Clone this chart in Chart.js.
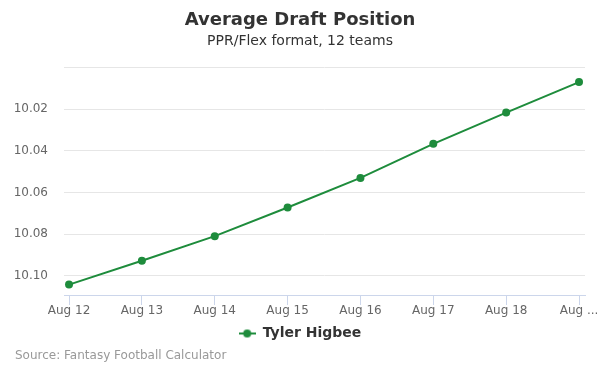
<!DOCTYPE html>
<html>
<head>
<meta charset="utf-8">
<script src="https://cdn.jsdelivr.net/npm/chart.js@4/dist/chart.umd.min.js"></script>
<style>
  html, body { margin: 0; padding: 0; background: #fff; }
  #wrap { position: relative; width: 600px; height: 375px; }
  #c { position: absolute; left: 0; top: 0; }
  #source { position: absolute; left: 15px; top: 348px; font: 12px "DejaVu Sans", sans-serif; color: #999; white-space: nowrap; }
</style>
</head>
<body>
<div id="wrap">
  <canvas id="c" width="600" height="375"></canvas>
  <div id="source">Source: Fantasy Football Calculator</div>
</div>
<script>
const categories = ["Aug 12", "Aug 13", "Aug 14", "Aug 15", "Aug 16", "Aug 17", "Aug 18", "Aug 19"];
const tickLabels = ["Aug 12", "Aug 13", "Aug 14", "Aug 15", "Aug 16", "Aug 17", "Aug 18", "Aug ..."];
const adpValues = [10.1043, 10.0928, 10.081, 10.0672, 10.053, 10.0366, 10.0216, 10.0069];
const yTicks = [10.00, 10.02, 10.04, 10.06, 10.08, 10.10];
const seriesName = "Tyler Higbee";
const lineColor = "#1e8c3c";

const FONT = "'DejaVu Sans', sans-serif";

// legend symbol: line with circle
const sym = document.createElement('canvas');
sym.width = 17; sym.height = 10;
(function(){
  const g = sym.getContext('2d');
  g.strokeStyle = lineColor; g.lineWidth = 2;
  g.beginPath(); g.moveTo(0, 5); g.lineTo(17, 5); g.stroke();
  g.fillStyle = lineColor;
  g.beginPath(); g.arc(8.5, 5, 4, 0, Math.PI * 2); g.fill();
})();

new Chart(document.getElementById('c'), {
  type: 'line',
  data: {
    datasets: [{
      label: seriesName,
      data: adpValues.map((v, i) => ({ x: i, y: v })),
      borderColor: lineColor,
      backgroundColor: lineColor,
      borderWidth: 2,
      pointRadius: 4,
      pointHoverRadius: 5,
      pointBackgroundColor: lineColor,
      pointBorderWidth: 0,
      tension: 0,
      fill: false
    }]
  },
  options: {
    responsive: false,
    animation: false,
    devicePixelRatio: 1,
    layout: { padding: { left: 0, right: 0, top: 0, bottom: 24.5 } },
    plugins: {
      title: {
        display: true,
        text: "Average Draft Position",
        color: "#333333",
        font: { family: FONT, size: 18, weight: 'bold', lineHeight: 1.2 },
        padding: { top: 9.5, bottom: 0 }
      },
      subtitle: {
        display: true,
        text: "PPR/Flex format, 12 teams",
        color: "#333333",
        font: { family: FONT, size: 14, lineHeight: 1.2 },
        padding: { top: 1.5, bottom: 18.3 }
      },
      legend: {
        display: true,
        position: 'bottom',
        labels: {
          usePointStyle: true,
          pointStyleWidth: 17,
          color: "#333333",
          font: { family: FONT, size: 14, weight: 'bold' },
          padding: 4,
          generateLabels: (chart) => chart.data.datasets.map((ds, i) => ({
            text: ds.label,
            pointStyle: sym,
            fillStyle: lineColor,
            strokeStyle: lineColor,
            lineWidth: 0,
            datasetIndex: i,
            fontColor: "#333333"
          }))
        }
      },
      tooltip: { enabled: false }
    },
    scales: {
      x: {
        type: 'linear',
        min: -0.069,
        max: 7.082,
        afterBuildTicks: (s) => { s.ticks = categories.map((c, i) => ({ value: i })); },
        afterFit: (s) => { s.height = 27.5; },
        ticks: {
          autoSkip: false,
          maxRotation: 0,
          color: "#666666",
          font: { family: FONT, size: 12 },
          padding: -1,
          callback: (v) => tickLabels[v]
        },
        grid: {
          display: true,
          drawOnChartArea: false,
          drawTicks: true,
          tickLength: 10,
          color: "#ccd6eb",
          lineWidth: 1
        },
        border: { display: true, color: "#ccd6eb", width: 1 }
      },
      y: {
        type: 'linear',
        reverse: true,
        min: 10.00,
        max: 10.1093,
        afterBuildTicks: (s) => { s.ticks = yTicks.map(v => ({ value: v })); },
        afterFit: (s) => { s.width = 64; },
        ticks: {
          color: "#666666",
          font: { family: FONT, size: 12 },
          padding: 16,
          callback: (v) => (Math.abs(v - 10.00) < 1e-9 ? '' : v.toFixed(2))
        },
        grid: {
          color: "#e6e6e6",
          lineWidth: 1,
          drawTicks: false
        },
        border: { display: false }
      },
      yRight: {
        type: 'linear',
        position: 'right',
        display: true,
        min: 0,
        max: 1,
        afterFit: (s) => { s.width = 15; },
        ticks: { display: false },
        grid: { display: false, drawTicks: false },
        border: { display: false }
      }
    }
  }
});
</script>
</body>
</html>
